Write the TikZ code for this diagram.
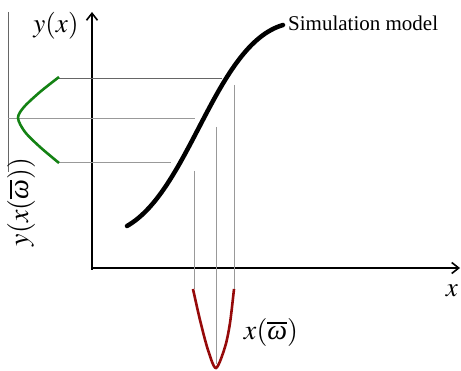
\documentclass[tikz,border=0pt]{standalone}
\usepackage{mathptmx}
\usepackage{fontspec}
\setmainfont{Liberation Serif}
\usetikzlibrary{arrows.meta}
\definecolor{cgreen}{RGB}{20,130,20}
\definecolor{cred}{RGB}{150,10,10}
\newcommand{\omg}{\overline{\textit{ω}}}
\tikzset{
  axis/.style={line width=2.6pt,-{Straight Barb[length=7pt,width=11pt,line width=1.6pt]}},
  guide/.style={line width=0.8pt,draw=gray!80},
  guidedark/.style={line width=0.8pt,draw=black!60},
  model/.style={line width=4.5pt,line cap=round},
  dist/.style={line width=2.6pt},
  mathlbl/.style={inner sep=0pt,font=\fontsize{28}{32}\selectfont},
}
\begin{document}
\begin{tikzpicture}[x=1pt,y=-1pt]
\useasboundingbox (0,0) rectangle (461,371);
% axes
\coordinate (o) at (92,268);
\coordinate (ytip) at (92,12);
\coordinate (xtip) at (460,268);
\draw[axis] (92,270) -- (ytip);
\draw[axis] (91,268) -- (xtip);
% left reference line
\coordinate (l1) at (8,12);
\coordinate (l2) at (8,172);
\draw[guidedark] (l1) -- (l2);
% horizontal guides
\coordinate (h1a) at (59,78);  \coordinate (h1b) at (222,78);
\coordinate (h2a) at (8,118);  \coordinate (h2b) at (195,118);
\coordinate (h3a) at (59,162); \coordinate (h3b) at (171,162);
\draw[guidedark] (h1a) -- (h1b);
\draw[guide] (h2a) -- (h2b);
\draw[guide] (h3a) -- (h3b);
% vertical guides
\coordinate (v1a) at (194,171); \coordinate (v1b) at (194,289);
\coordinate (v2a) at (216,127); \coordinate (v2b) at (216,364);
\coordinate (v3a) at (234,85);  \coordinate (v3b) at (234,289);
\draw[guide] (v1a) -- (v1b);
\draw[guide] (v2a) -- (v2b);
\draw[guide] (v3a) -- (v3b);
% simulation model curve
\coordinate (m0) at (127,226);
\coordinate (m2) at (283,25);
\draw[model] (m0) .. controls (190,190) and (215,45) .. (m2);
% output distribution (green)
\draw[dist,draw=cgreen] plot[smooth] coordinates {(59,77) (40,92) (24,107) (18,118) (25,132) (40,147) (59,163)};
% input distribution (red)
\draw[dist,draw=cred] plot[smooth] coordinates {(193,289) (200,320) (208,350) (216,368) (225,347) (230,323) (234,289)};
% labels
\node[anchor=west,inner sep=0pt,font=\fontsize{21}{24}\selectfont] (sim) at (288,23) {Simulation model};
\node[mathlbl,font=\fontsize{27}{30}\selectfont] (ylab) at (56,26) {$y(x)$};
\node[mathlbl,font=\fontsize{27}{30}\selectfont] (xlab) at (452,291) {$x$};
\node[mathlbl] (xw) at (271,333) {$x(\omg)$};
\node[mathlbl,rotate=90] (yxw) at (21,202) {$y(x(\omg))$};
\end{tikzpicture}
\end{document}
